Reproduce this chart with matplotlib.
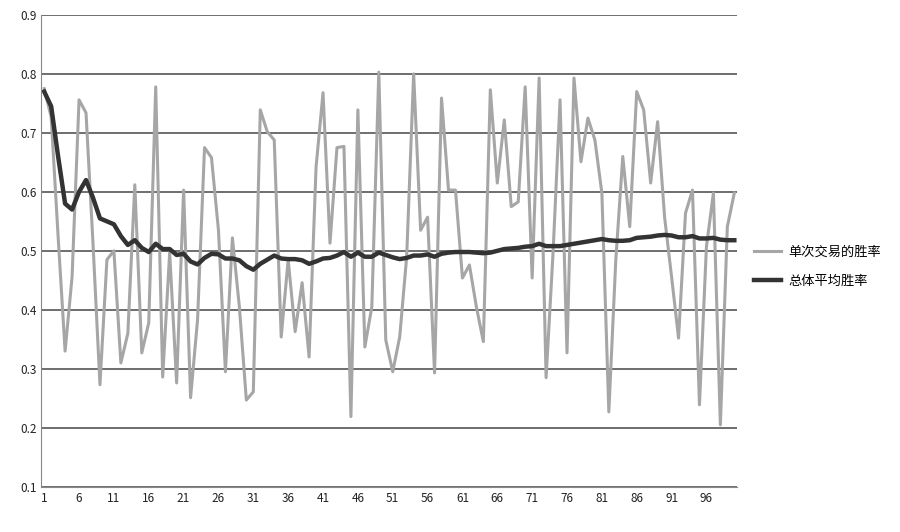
import matplotlib
matplotlib.use('Agg')
import matplotlib.pyplot as plt

plt.rcParams['font.family'] = ['Noto Sans CJK SC', 'DejaVu Sans']

# single trade win rate (gray)
single = [0.775, 0.727, 0.524, 0.33, 0.456, 0.756, 0.734, 0.513, 0.273, 0.485,
          0.50, 0.31, 0.36, 0.612, 0.327, 0.378, 0.778, 0.286, 0.497, 0.276,
          0.603, 0.251, 0.383, 0.675, 0.658, 0.535, 0.295, 0.522, 0.405, 0.247,
          0.261, 0.739, 0.702, 0.688, 0.354, 0.485, 0.363, 0.446, 0.32, 0.642,
          0.768, 0.513, 0.675, 0.677, 0.219, 0.739, 0.337, 0.405, 0.803, 0.349,
          0.295, 0.354, 0.49, 0.80, 0.535, 0.557, 0.293, 0.759, 0.603, 0.603,
          0.454, 0.476, 0.405, 0.346, 0.773, 0.615, 0.722, 0.575, 0.583, 0.778,
          0.454, 0.793, 0.285, 0.497, 0.756, 0.327, 0.793, 0.651, 0.725, 0.688,
          0.598, 0.227, 0.485, 0.66, 0.541, 0.77, 0.739, 0.615, 0.719, 0.557,
          0.456, 0.352, 0.564, 0.603, 0.239, 0.507, 0.598, 0.205, 0.541, 0.598]

# overall average win rate (dark)
overall = [0.77, 0.745, 0.66, 0.58, 0.57, 0.60, 0.62, 0.59, 0.555, 0.55,
           0.545, 0.525, 0.51, 0.518, 0.505, 0.498, 0.512, 0.503, 0.503, 0.493,
           0.495, 0.482, 0.477, 0.488, 0.495, 0.494, 0.487, 0.487, 0.484, 0.474,
           0.468, 0.478, 0.485, 0.492, 0.487, 0.486, 0.486, 0.484, 0.478, 0.482,
           0.487, 0.488, 0.492, 0.498, 0.49, 0.497, 0.49, 0.49, 0.497, 0.493,
           0.489, 0.486, 0.488, 0.492, 0.492, 0.494, 0.49, 0.495, 0.497, 0.498,
           0.498, 0.498, 0.497, 0.496, 0.497, 0.50, 0.503, 0.504, 0.505, 0.507,
           0.508, 0.512, 0.508, 0.508, 0.508, 0.51, 0.512, 0.514, 0.516, 0.518,
           0.52, 0.518, 0.517, 0.517, 0.518, 0.522, 0.523, 0.524, 0.526, 0.527,
           0.526, 0.523, 0.523, 0.525, 0.521, 0.521, 0.522, 0.519, 0.518, 0.518]

x = list(range(1, len(single) + 1))
xticks = list(range(1, 100, 5))
yticks = [0.1, 0.2, 0.3, 0.4, 0.5, 0.6, 0.7, 0.8, 0.9]

fig = plt.figure(figsize=(9, 5.32), dpi=100)
ax = fig.add_axes([0.046, 0.085, 0.773, 0.887])

ax.plot(x, single, color='#a6a6a6', lw=2.2, label='单次交易的胜率')
ax.plot(x, overall, color='#333333', lw=3.2, label='总体平均胜率')

ax.set_xlim(0.6, 100.4)
ax.set_ylim(0.1, 0.9)
ax.set_yticks(yticks)
ax.set_yticklabels([f'{v:.1f}' for v in yticks])
ax.set_xticks(xticks)
ax.set_xticklabels([str(t) for t in xticks])
ax.tick_params(labelsize=8.5, length=0, colors='#222222')
ax.yaxis.grid(True, color='#555555', lw=1.2)
ax.set_axisbelow(True)
for s in ['top', 'right']:
    ax.spines[s].set_visible(False)
ax.spines['left'].set_color('#888888')
ax.spines['bottom'].set_color('#888888')

fig.legend(loc='upper left', bbox_to_anchor=(0.825, 0.56), frameon=False,
           fontsize=9.5, handlelength=2.0, handletextpad=0.6, labelspacing=1.2)

fig.savefig('out.png', dpi=100)
